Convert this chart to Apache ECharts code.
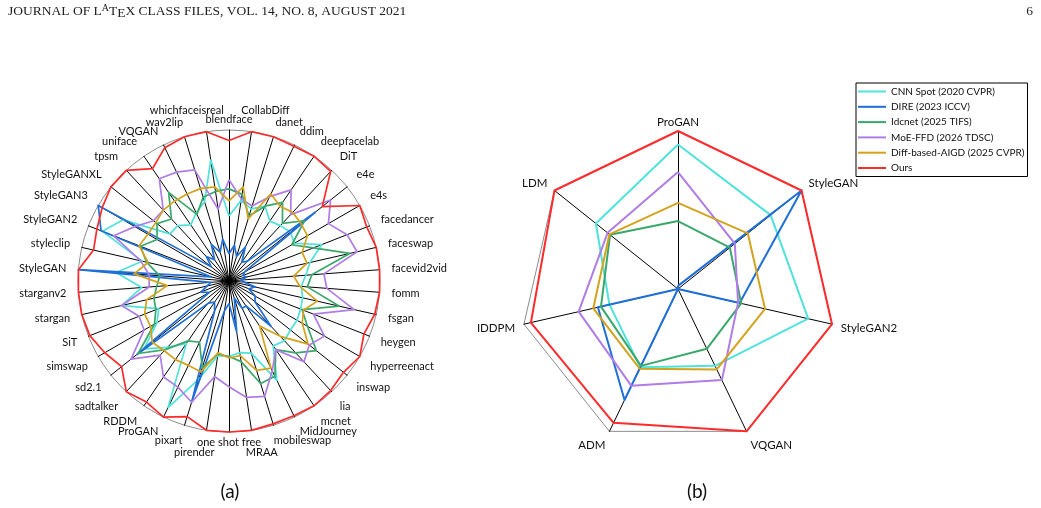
<!DOCTYPE html>
<html>
<head>
<meta charset="utf-8">
<title>Radar comparison</title>
<script src="https://cdn.jsdelivr.net/npm/echarts@6/dist/echarts.min.js"></script>
<style>
html,body{margin:0;padding:0;background:#fff;}
#chart{width:1041px;height:508px;}
</style>
</head>
<body>
<div id="chart"></div>
<script>
// (a) per-dataset scores, listed clockwise from the top axis
var namesA = ['blendface','CollabDiff','danet','ddim','deepfacelab','DiT','e4e','e4s','facedancer','faceswap',
	'facevid2vid','fomm','fsgan','heygen','hyperreenact','inswap','lia','mcnet','MidJourney','mobileswap',
	'MRAA','one shot free','pirender','pixart','ProGAN','RDDM','sadtalker','sd2.1','simswap','SiT',
	'stargan','starganv2','StyleGAN','styleclip','StyleGAN2','StyleGAN3','StyleGANXL','tpsm','uniface','VQGAN',
	'wav2lip','whichfaceisreal'];
var cnnA  = [43,54,50,55,48,50,52,50,66,55,51,48,50,51,52,52,54,52,73,50,48,50,50,68,93,50,60,72,55,50,73,58,75,59,90,81,50,50,45,50,55,81];
var direA = [18,24,17,25,15,18,73,12,10,12,8,10,18,14,20,22,41,20,20,12,34,15,20,84,22,17,20,78,15,20,15,12,100,12,91,100,15,22,17,27,20,28];
var idcA  = [61,58,45,55,63,52,64,48,60,82,55,52,75,52,60,74,65,55,70,71,54,50,49,60,45,48,62,77,57,52,51,48,46,56,63,55,61,56,71,49,58,60];
var moeA  = [67,55,52,62,73,60,86,76,84,87,63,65,85,60,73,68,73,55,66,80,78,70,64,84,78,77,67,83,65,64,73,53,53,60,82,72,64,64,82,80,77,48];
var diffA = [53,63,43,64,60,62,61,60,52,53,43,47,60,53,56,67,50,36,64,62,50,51,48,63,62,63,63,65,60,60,56,41,63,55,64,62,62,64,64,64,64,63];
var oursA = [93,100,100,99,100,99,79,100,98,100,100,100,99,96,100,97,99,100,99,99,100,100,100,94,100,97,100,91,95,99,100,100,100,92,94,97,100,100,90,98,100,100];

// (b) per-generator scores, clockwise from the top axis
var namesB = ['ProGAN','StyleGAN','StyleGAN2','VQGAN','ADM','IDDPM','LDM'];
var cnnB  = [91.5,75,84.5,54,55,44.5,66.5];
var direB = [2,100,40,0,78,52,0];
var idcB  = [43,42,41,42,54,50,55];
var moeB  = [74,46,39,64,68,64.5,57];
var diffB = [54.5,56.5,56.5,56.5,56,55,55.5];
var oursB = [100,100,100,100,94,95.5,100];

var methods = ['CNN Spot (2020 CVPR)','DIRE (2023 ICCV)','Idcnet (2025 TIFS)','MoE-FFD (2026 TDSC)','Diff-based-AIGD (2025 CVPR)','Ours'];
var colors = ['#4fe3dc','#1f6fd8','#3aa86b','#b07ce6','#d4a21c','#ff2a2a'];

var radarA = {cx: 229, cy: 281, r: 151};
var radarB = {cx: 678, cy: 289, r: 158};

// echarts lays radar axes out counter-clockwise, so flip the order after the first axis
function ccw(arr) {
	return [arr[0]].concat(arr.slice(1).reverse());
}

function indicators(names) {
	return ccw(names).map(function (n) { return {name: n, min: 0, max: 100}; });
}

function radarData(sets, width) {
	return sets.map(function (s, i) {
		return {
			name: methods[i],
			value: ccw(s),
			symbol: 'none',
			itemStyle: {color: colors[i]},
			lineStyle: {color: colors[i], width: width}
		};
	});
}

// spreadsheet-style category labels: box sits just outside the rim,
// labels nearest the vertical go first and later ones are moved when they hit a neighbour
var measure = document.createElement('canvas').getContext('2d');
function clamp(v) {
	return Math.max(-1, Math.min(1, v));
}
function rimLabels(names, rd, gx, gyTop, gyBottom, liftTop, liftBottom, size) {
	var font = size + 'px Lato';
	measure.font = font;
	var n = names.length, h = size, placed = [], out = [];
	var order = names.map(function (_, i) { return i; });
	order.sort(function (p, q) {
		var sp = Math.abs(Math.sin(p * 2 * Math.PI / n)), sq = Math.abs(Math.sin(q * 2 * Math.PI / n));
		return sp - sq || p - q;
	});
	function boxAt(x, y, w) {
		return {l: x - w / 2 + 0.5, r: x + w / 2 - 0.5, t: y - h / 2 + 1, b: y + h / 2 - 1};
	}
	function free(box) {
		return !placed.some(function (o) {
			return box.l < o.r && box.r > o.l && box.t < o.b && box.b > o.t;
		});
	}
	order.forEach(function (i) {
		var name = names[i];
		var a = i * 2 * Math.PI / n, s = Math.sin(a), c = Math.cos(a);
		var top = c > 0, sx = s < 0 ? -1 : 1;
		// diagonal labels sit a little further out vertically
		var extra = (top ? liftTop : liftBottom) * Math.min(1, 3 * Math.abs(s)) *
			Math.max(0, Math.min(1, 2.5 * Math.abs(c) - 0.9));
		var w = measure.measureText(name).width;
		var x0 = rd.cx + (rd.r + gx) * s + w / 2 * clamp(3 * s);
		var y0 = rd.cy - (rd.r + (top ? gyTop : gyBottom)) * c - h / 2 * clamp(2 * c) - extra * (top ? 1 : -1);
		var pos = [x0, y0];
		if (!free(boxAt(x0, y0, w))) {
			for (var p = 1; p < 40; p++) {
				var tries = [];
				if (p <= extra) tries.push([x0, y0 + p * (top ? 1 : -1)]);
				tries.push([x0 + p * s, y0 - p * c]);
				tries.push([x0 + p * sx, y0]);
				var ok = tries.filter(function (t) { return free(boxAt(t[0], t[1], w)); });
				if (ok.length) { pos = ok[0]; break; }
			}
		}
		placed.push(boxAt(pos[0], pos[1], w));
		out.push({
			type: 'text', x: pos[0], y: pos[1], silent: true,
			style: {text: name, font: font, fill: '#111', align: 'center', verticalAlign: 'middle'}
		});
	});
	return out;
}

var radarBase = {
	startAngle: 90,
	splitNumber: 1,
	axisName: {show: false},
	axisLine: {lineStyle: {color: '#000', width: 1}},
	splitLine: {lineStyle: {color: '#8c8c8c', width: 1}},
	splitArea: {show: false},
	axisTick: {show: false},
	axisLabel: {show: false}
};

var option = {
	animation: false,
	backgroundColor: '#fff',
	radar: [
		Object.assign({}, radarBase, {
			indicator: indicators(namesA),
			center: [radarA.cx, radarA.cy],
			radius: radarA.r,
			shape: 'circle'
		}),
		Object.assign({}, radarBase, {
			indicator: indicators(namesB),
			center: [radarB.cx, radarB.cy],
			radius: radarB.r,
			shape: 'polygon'
		})
	],
	legend: {
		data: methods,
		orient: 'vertical',
		left: 856,
		top: 83,
		icon: 'rect',
		itemWidth: 28,
		itemHeight: 2,
		itemGap: 2.3,
		padding: [2, 3, 2, 2],
		borderColor: '#000',
		borderWidth: 1,
		selectedMode: false,
		textStyle: {fontFamily: 'Lato', fontSize: 10, color: '#111', lineHeight: 13}
	},
	series: [
		{
			type: 'radar',
			radarIndex: 0,
			silent: true,
			data: radarData([cnnA, direA, idcA, moeA, diffA, oursA], 1.7)
		},
		{
			type: 'radar',
			radarIndex: 1,
			silent: true,
			data: radarData([cnnB, direB, idcB, moeB, diffB, oursB], 2)
		}
	],
	graphic: [
		{
			type: 'text',
			left: 8,
			top: 3,
			style: {
				text: 'JOURNAL OF L{a|A}T{e|E}X CLASS FILES, VOL. 14, NO. 8, AUGUST 2021',
				fontFamily: 'Liberation Serif',
				fontSize: 13.5,
				lineHeight: 17,
				fill: '#222',
				rich: {
					a: {fontFamily: 'Liberation Serif', fontSize: 10, verticalAlign: 'top', lineHeight: 17},
					e: {fontFamily: 'Liberation Serif', fontSize: 13.5, verticalAlign: 'bottom', lineHeight: 17, padding: [3, 0, 0, 0]}
				}
			}
		},
		{
			type: 'text',
			right: 8,
			top: 3,
			style: {text: '6', fontFamily: 'Liberation Serif', fontSize: 13.5, lineHeight: 17, fill: '#222'}
		},
		{
			type: 'text', x: 230, y: 492,
			style: {text: '(a)', font: '19px Lato', fill: '#111', align: 'center', verticalAlign: 'middle'}
		},
		{
			type: 'text', x: 697, y: 492,
			style: {text: '(b)', font: '19px Lato', fill: '#111', align: 'center', verticalAlign: 'middle'}
		}
	].concat(rimLabels(namesA, radarA, 12, 5, 5, 5, 6, 11), rimLabels(namesB, radarB, 9, 3, 9, 0, 0, 11.5))
};

var myChart = echarts.init(document.getElementById('chart'));
myChart.setOption(option);
</script>
</body>
</html>
